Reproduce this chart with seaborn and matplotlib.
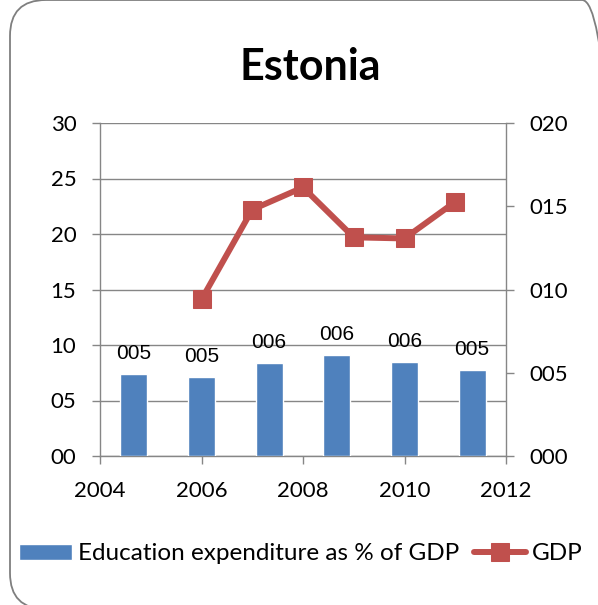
import matplotlib.pyplot as plt
import seaborn as sns
from matplotlib.patches import FancyBboxPatch

# data
title = "Estonia"
bar_cats = ["2005", "2006", "2007", "2008", "2009", "2010"]
edu_values = [4.9, 4.75, 5.6, 6.05, 5.65, 5.15]
gdp_years = [2006, 2007, 2008, 2009, 2010, 2011]
gdp_values = [14.1, 22.2, 24.2, 19.7, 19.6, 22.9]
left_ticks = [0, 5, 10, 15, 20, 25, 30]
right_ticks = [0, 5, 10, 15, 20]
x_ticks = [2004, 2006, 2008, 2010, 2012]
bar_name = "Education expenditure as % of GDP"
line_name = "GDP"

blue = "#4F81BD"
red = "#C0504D"
gray = "#868686"

sns.set_style("white")
plt.rcParams["font.family"] = ["Lato", "DejaVu Sans"]
plt.rcParams["text.color"] = "black"

fig = plt.figure(figsize=(5.98, 6.05), dpi=100)

# rounded frame around the whole chart
frame = FancyBboxPatch((10 / 598, -4 / 605), 608 / 598, 609 / 605,
                       boxstyle="round,pad=0,rounding_size=0.06",
                       mutation_aspect=598 / 605,
                       transform=fig.transFigure, facecolor="none",
                       edgecolor="#7F7F7F", linewidth=1.3, zorder=-1)
fig.patches.append(frame)

rect = [100 / 598, 1 - 456 / 605, 406 / 598, 333 / 605]
ax_line = fig.add_axes(rect, facecolor="none")
ax_bar = fig.add_axes(rect, facecolor="none")

# ---------------------------------
# GDP line (left axis, year axis)
# ---------------------------------
sns.lineplot(x=gdp_years, y=gdp_values, ax=ax_line, color=red,
             marker="s", markersize=13, linewidth=4.3,
             markeredgecolor=red, legend=False)

ax_line.set_xlim(2004, 2012)
ax_line.set_ylim(0, 30)
ax_line.set_xticks(x_ticks)
ax_line.set_xticklabels([str(x) for x in x_ticks])
ax_line.set_yticks(left_ticks)
ax_line.set_yticklabels([f"{v:02d}" for v in left_ticks])
ax_line.yaxis.grid(True, color=gray, linewidth=1)
ax_line.xaxis.grid(False)
ax_line.set_axisbelow(True)
for side in ["top", "right"]:
    ax_line.spines[side].set_visible(False)
for side in ["left", "bottom"]:
    ax_line.spines[side].set_color(gray)
    ax_line.spines[side].set_linewidth(1)
ax_line.tick_params(axis="both", left=True, bottom=True, length=6,
                    width=1, color=gray, labelsize=16, labelcolor="black")
ax_line.tick_params(axis="y", pad=11)
ax_line.tick_params(axis="x", pad=12)

# ---------------------------------
# Education expenditure bars (right axis)
# ---------------------------------
sns.barplot(x=bar_cats, y=edu_values, ax=ax_bar, color=blue,
            saturation=1, width=0.4)
ax_bar.set_xlim(-0.5, len(bar_cats) - 0.5)
ax_bar.set_ylim(0, 20)
ax_bar.set_xticks([])
ax_bar.set_xlabel("")
ax_bar.set_ylabel("")
ax_bar.yaxis.tick_right()
ax_bar.set_yticks(right_ticks)
ax_bar.set_yticklabels([f"{v:03d}" for v in right_ticks])
for side in ["top", "left", "bottom"]:
    ax_bar.spines[side].set_visible(False)
ax_bar.spines["right"].set_visible(True)
ax_bar.spines["right"].set_color(gray)
ax_bar.spines["right"].set_linewidth(1)
ax_bar.tick_params(axis="y", right=True, left=False, length=6, width=1,
                   color=gray, labelsize=16, pad=11, labelcolor="black")

ax_bar.bar_label(ax_bar.containers[0],
                 labels=[f"{v:03.0f}" for v in edu_values],
                 padding=8, fontsize=15, family="Liberation Sans",
                 color="black")

# title
fig.text(310 / 598, 1 - 67 / 605, title, ha="center", va="center",
         fontsize=31, fontweight="bold", color="black")

# legend
handles = [ax_bar.patches[0], ax_line.lines[0]]
fig.legend(handles, [bar_name, line_name], loc="center",
           bbox_to_anchor=(301 / 598, 1 - 554 / 605), ncol=2,
           frameon=False, fontsize=17.5, handlelength=2.15,
           handleheight=0.66, handletextpad=0.25, columnspacing=0.6,
           borderaxespad=0)

plt.savefig("out.png", dpi=100)
